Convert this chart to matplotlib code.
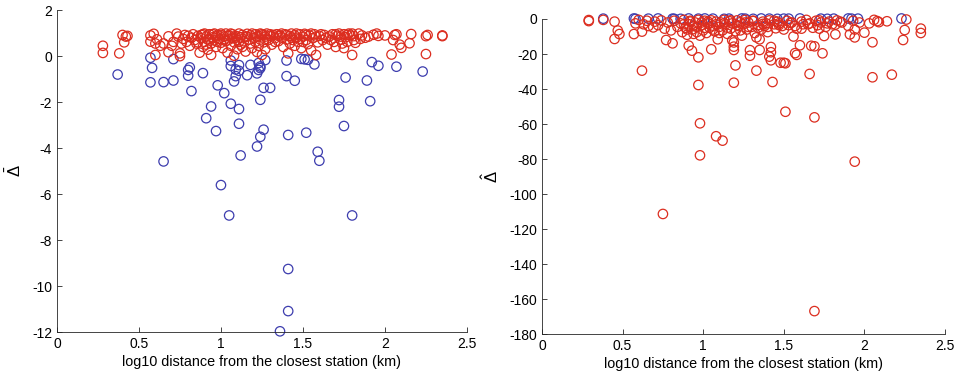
import matplotlib
matplotlib.use('Agg')
import matplotlib.pyplot as plt
import numpy as np

plt.rcParams['font.family'] = ['Liberation Sans', 'DejaVu Sans']
plt.rcParams['mathtext.fontset'] = 'custom'
plt.rcParams['mathtext.rm'] = 'Liberation Sans'
plt.rcParams['mathtext.it'] = 'Liberation Sans:italic'
plt.rcParams['axes.unicode_minus'] = False

RED = '#dc2d1f'
BLUE = '#3d3dae'

# left panel, positive values (red)
left_red_x = [0.28, 0.28, 0.38, 0.40, 0.41, 0.43, 0.42,
              0.57, 0.57, 0.59, 0.60, 0.61, 0.60, 0.63, 0.65, 0.68, 0.68, 0.70, 0.71, 0.73,
              0.74, 0.75, 0.75, 0.76, 0.77, 0.78, 0.79, 0.80, 0.81, 0.82, 0.83, 0.84, 0.85,
              0.86, 0.87, 0.88, 0.89, 0.89, 0.90, 0.91, 0.92, 0.92, 0.93, 0.94, 0.94, 0.95,
              0.96, 0.96, 0.97, 0.98, 0.99, 1.00, 1.00, 1.01, 1.02, 1.03, 1.03, 1.04, 1.05,
              1.05, 1.06, 1.07, 1.07, 1.08, 1.08, 1.09, 1.10, 1.10, 1.11, 1.12, 1.12, 1.13,
              1.14, 1.15, 1.15, 1.16, 1.17, 1.18, 1.18, 1.19, 1.20, 1.21, 1.21, 1.22, 1.23,
              1.23, 1.24, 1.25, 1.25, 1.26, 1.27, 1.27, 1.28, 1.29, 1.30, 1.31, 1.32, 1.33,
              1.34, 1.35, 1.36, 1.37, 1.38, 1.39, 1.40, 1.41, 1.42, 1.42, 1.43, 1.44, 1.45,
              1.45, 1.46, 1.47, 1.48, 1.49, 1.50, 1.51, 1.52, 1.53, 1.54, 1.55, 1.56, 1.57,
              1.58, 1.59, 1.60, 1.62, 1.63, 1.65, 1.66, 1.68, 1.69, 1.70, 1.71, 1.72, 1.73,
              1.74, 1.75, 1.75, 1.76, 1.77, 1.78, 1.79, 1.80, 1.81, 1.81, 1.82, 1.86, 1.88,
              1.90, 1.93, 1.95, 1.96, 2.00, 2.04, 2.05, 2.06, 2.07, 2.09, 2.10, 2.16, 2.15,
              2.25, 2.26, 2.25, 2.35, 2.35,
              0.86, 0.88, 0.90, 0.91, 0.93, 0.95, 0.97, 0.98, 1.00, 1.02, 1.04, 1.06, 1.09,
              1.11, 1.13, 1.16, 1.19, 1.22, 1.24, 1.26, 1.28, 1.30, 1.33, 1.35, 1.37, 1.40,
              1.43, 1.46, 1.48, 1.50, 1.52, 1.55, 1.58, 1.61, 1.64, 1.67, 1.70, 1.73, 1.77,
              1.80, 1.84, 1.85]
left_red_y = [0.45, 0.14, 0.12, 0.92, 0.60, 0.88, 0.85,
              0.90, 0.63, 0.97, 0.55, 0.73, 0.05, 0.45, 0.55, 0.86, 0.17, 0.45, 0.62, 0.98,
              0.85, 0.12, 0.00, 0.55, 0.75, 0.92, 0.62, 0.88, 0.45, 0.80, 0.95, 0.70, 0.55,
              0.88, 0.15, 0.78, 0.40, 0.95, 0.62, 0.85, 0.72, 0.28, 0.95, 0.05, 0.55, 0.82,
              0.98, 0.68, 0.40, 0.90, 0.75, 0.92, 0.58, 0.35, 0.85, 0.98, 0.65, 0.15, 0.90,
              0.72, 0.45, 0.95, 0.80, 0.02, 0.60, 0.88, 0.70, 0.30, 0.98, 0.82, 0.50, 0.92,
              0.65, 0.85, 0.20, 0.97, 0.72, 0.55, 0.90, 0.35, 0.80, 0.95, 0.62, 0.18, 0.88,
              0.45, 0.72, 0.05, 0.95, 0.60, 0.85, 0.30, 0.98, 0.70, 0.88, 0.50, 0.92, 0.78,
              0.95, 0.65, 0.90, 0.82, 0.40, 0.95, 0.72, 0.12, 0.88, 0.55, 0.98, 0.70, 0.45,
              0.90, 0.80, 0.62, 0.95, 0.35, 0.85, 0.97, 0.70, 0.52, 0.90, 0.25, 0.78, 0.95,
              0.05, 0.60, 0.88, 0.70, 0.92, 0.50, 0.85, 0.95, 0.62, 0.40, 0.88, 0.98, 0.72,
              0.55, 0.95, 0.35, 0.82, 0.62, 0.98, 0.90, 0.05, 0.70, 0.87, 0.58, 0.90, 0.80,
              0.85, 0.93, 0.98, 0.88, 0.90, 0.07, 0.70, 0.92, 0.95, 0.50, 0.36, 0.96, 0.56,
              0.87, 0.92, 0.09, 0.87, 0.90,
              0.60, 0.92, 0.98, 0.50, 0.75, 0.95, 0.85, 0.62, 0.98, 0.72, 0.88, 0.98, 0.80,
              0.62, 0.40, 0.85, 0.98, 0.85, 0.98, 0.92, 0.75, 0.95, 0.62, 0.88, 0.98, 0.92,
              0.80, 0.98, 0.75, 0.62, 0.92, 0.98, 0.85, 0.95, 0.80, 0.70, 0.95, 0.85, 0.92,
              0.98, 0.98, 0.75]

# left panel, negative values (blue)
left_blue_x = [0.37, 0.57, 0.58, 0.57, 0.65, 0.71, 0.71, 0.65, 0.81, 0.80, 0.80, 0.82,
               0.89, 0.98, 1.02, 0.94, 0.91, 0.97, 1.06, 1.11, 1.11, 1.12, 1.00,
               1.06, 1.06, 1.09, 1.09, 1.08, 1.11, 1.11, 1.16, 1.18, 1.22, 1.23, 1.24,
               1.23, 1.24, 1.27, 1.26, 1.30, 1.24, 1.26, 1.24, 1.22, 1.40, 1.40, 1.45,
               1.41, 1.52, 1.49, 1.51, 1.53, 1.57, 1.59, 1.60, 1.76, 1.72, 1.72, 1.75,
               1.92, 1.96, 1.89, 1.91, 2.07, 2.23, 1.05, 1.80, 1.41, 1.41, 1.36]
left_blue_y = [-0.80, -0.07, -0.51, -1.14, -1.13, -0.13, -1.06, -4.58, -0.49, -0.60, -0.85, -1.52,
               -0.74, -1.27, -1.61, -2.19, -2.70, -3.26, -2.07, -2.30, -2.94, -4.32, -5.61,
               -0.19, -0.43, -0.58, -0.87, -1.10, -0.39, -0.64, -0.83, -0.38, -0.75, -0.30, -0.45,
               -0.60, -0.52, -0.17, -1.38, -1.38, -1.90, -3.20, -3.51, -3.93, -0.19, -0.87, -1.07,
               -3.43, -3.33, -0.12, -0.14, -0.16, -0.36, -4.16, -4.55, -0.93, -1.91, -2.20, -3.04,
               -0.26, -0.42, -1.06, -1.96, -0.46, -0.67, -6.93, -6.93, -9.26, -11.09, -11.97]

# right panel (red)
right_red_x = [0.29, 0.29, 0.38, 0.45, 0.45, 0.47, 0.48, 0.57, 0.58, 0.60, 0.62, 0.62, 0.63,
               0.65, 0.66, 0.69, 0.70, 0.72, 0.74, 0.75, 0.76, 0.77, 0.78, 0.80, 0.81, 0.82,
               0.84, 0.86, 0.87, 0.88, 0.89, 0.90, 0.91, 0.91, 0.92, 0.93, 0.93, 0.94, 0.95,
               0.96, 0.97, 0.97, 0.97, 0.98, 0.98, 0.98, 0.99, 1.00, 1.01, 1.02, 1.03, 1.04,
               1.05, 1.05, 1.06, 1.07, 1.08, 1.08, 1.09, 1.10, 1.11, 1.12, 1.12, 1.13, 1.14,
               1.15, 1.16, 1.17, 1.18, 1.18, 1.19, 1.19, 1.19, 1.19, 1.20, 1.20, 1.21, 1.22,
               1.23, 1.24, 1.25, 1.26, 1.27, 1.28, 1.29, 1.29, 1.30, 1.31, 1.32, 1.33, 1.33,
               1.34, 1.35, 1.35, 1.36, 1.37, 1.38, 1.39, 1.40, 1.41, 1.41, 1.42, 1.42, 1.42,
               1.43, 1.44, 1.45, 1.46, 1.47, 1.48, 1.49, 1.50, 1.51, 1.51, 1.52, 1.53, 1.55,
               1.56, 1.57, 1.58, 1.58, 1.60, 1.61, 1.62, 1.64, 1.66, 1.66, 1.67, 1.68, 1.69,
               1.69, 1.69, 1.70, 1.71, 1.72, 1.73, 1.74, 1.75, 1.76, 1.78, 1.80, 1.82, 1.82,
               1.83, 1.85, 1.90, 1.91, 1.93, 1.94, 1.94, 1.94, 1.97, 2.00, 2.03, 2.05, 2.05,
               2.06, 2.08, 2.09, 2.14, 2.17, 2.24, 2.25, 2.26, 2.35, 2.35,
               0.88, 0.90, 0.92, 0.94, 0.96, 0.99, 1.01, 1.03, 1.06, 1.08, 1.10, 1.13,
               1.15, 1.17, 1.21, 1.23, 1.26, 1.28, 1.31, 1.34, 1.37, 1.40, 1.44, 1.47,
               1.50, 1.54, 1.57, 1.61, 1.65, 1.72, 1.77, 1.86]
right_red_y = [-0.6, -1.2, -0.5, -1.5, -11.4, -6.6, -8.6, -8.6, -2.5, -0.5, -29.5, -7.2, -3.0,
               -1.0, -4.0, -4.8, -1.5, -3.5, -0.8, -111.4, -5.5, -12.0, -2.0, -6.5, -13.9, -1.0,
               -4.5, -2.5, -7.5, -0.5, -5.0, -9.0, -15.2, -3.0, -1.5, -18.1, -6.0, -8.5, -2.0,
               -4.5, -21.9, -37.7, -0.5, -59.6, -77.9, -9.5, -3.5, -6.5, -1.0, -8.0, -2.5, -5.0,
               -17.3, -0.8, -3.8, -7.0, -67.0, -1.5, -11.6, -4.5, -2.0, -69.5, -6.5, -0.5, -3.0,
               -8.5, -1.2, -5.5, -12.2, -2.5, -13.4, -15.8, -17.7, -36.4, -26.5, -7.0, -0.8, -4.0,
               -1.8, -9.5, -3.0, -0.5, -6.0, -2.0, -17.8, -21.0, -4.5, -1.0, -8.0, -29.5, -10.5,
               -3.5, -17.7, -11.6, -6.0, -1.5, -4.0, -2.5, -7.5, -21.5, -0.8, -16.0, -19.0, -23.6,
               -36.0, -3.0, -5.3, -1.5, -2.5, -25.0, -4.0, -25.0, -25.3, -53.0, -1.0, -3.5, -2.0,
               -10.0, -19.5, -20.5, -5.5, -15.0, -1.5, -3.0, -0.5, -31.4, -2.5, -15.3, -5.0, -15.6,
               -56.2, -166.9, -1.0, -3.5, -0.8, -2.0, -19.6, -9.7, -4.5, -1.5, -3.0, -8.8, -3.2,
               -0.8, -1.5, -4.0, -8.8, -1.0, -81.5, -6.0, -10.5, -2.0, -7.8, -2.5, -13.3, -33.3,
               -0.5, -1.2, -1.8, -1.3, -31.8, -12.0, -6.3, -0.3, -5.5, -8.0,
               -3.0, -6.0, -1.0, -4.0, -7.5, -2.0, -5.0, -1.5, -6.0, -3.0, -8.0, -2.5,
               -5.0, -0.8, -3.5, -6.5, -2.0, -4.5, -1.2, -5.0, -2.8, -4.5, -1.0, -3.5,
               -6.0, -2.2, -4.0, -5.5, -3.0, -5.5, -2.5, -2.0]

# right panel (blue)
right_blue_x = [0.38, 0.57, 0.58, 0.66, 0.72, 0.81, 0.82, 0.91, 0.97, 1.01, 1.06, 1.13,
                1.24, 1.26, 1.36, 1.41, 1.46, 1.53, 1.60, 1.73, 1.77, 1.81, 1.90, 1.92,
                1.96, 2.23, 0.86, 1.16, 1.31, 1.50]
right_blue_y = [0.2, 0.3, 0.1, 0.2, 0.3, 0.2, 0.1, 0.3, 0.2, 0.3, 0.2, 0.1,
                0.3, 0.2, 0.3, 0.2, 0.1, 0.2, 0.3, 0.2, 0.1, 0.2, 0.3, 0.2,
                0.2, 0.3, 0.1, 0.2, 0.1, 0.2]

fig = plt.figure(figsize=(9.59, 3.8), dpi=100)
ax1 = fig.add_axes([0.0594, 0.1263, 0.4275, 0.847])
ax2 = fig.add_axes([0.5652, 0.121, 0.4202, 0.829])

mk = dict(s=46, facecolors='none', linewidths=0.9, clip_on=False)
ax1.scatter(left_blue_x, left_blue_y, edgecolors=BLUE, **mk)
ax1.scatter(left_red_x, left_red_y, edgecolors=RED, **mk)
ax2.scatter(right_blue_x, right_blue_y, edgecolors=BLUE, **mk)
ax2.scatter(right_red_x, right_red_y, edgecolors=RED, **mk)

ax1.set_ylim(-12, 2)
ax1.set_yticks(np.arange(-12, 3, 2))
ax2.set_ylim(-180, 0)
ax2.set_yticks(np.arange(-180, 1, 20))
ax1.set_ylabel(r'$\bar{\Delta}$', fontsize=12, labelpad=6)
ax2.set_ylabel(r'$\hat{\Delta}$', fontsize=12, labelpad=6)

for ax in (ax1, ax2):
    ax.set_xlim(0, 2.5)
    ax.set_xticks([0, 0.5, 1, 1.5, 2, 2.5])
    ax.set_xticklabels(['0', '0.5', '1', '1.5', '2', '2.5'])
    ax.set_xlabel('log10 distance from the closest station (km)', fontsize=10.4, labelpad=3)
    ax.spines['top'].set_visible(False)
    ax.spines['right'].set_visible(False)
    for s in ('left', 'bottom'):
        ax.spines[s].set_color('#262626')
        ax.spines[s].set_linewidth(0.6)
    ax.tick_params(direction='in', length=3.5, width=0.6, colors='#262626',
                   labelsize=10, labelcolor='black')
    ax.patch.set_alpha(0)

fig.savefig('out.png', dpi=100)
